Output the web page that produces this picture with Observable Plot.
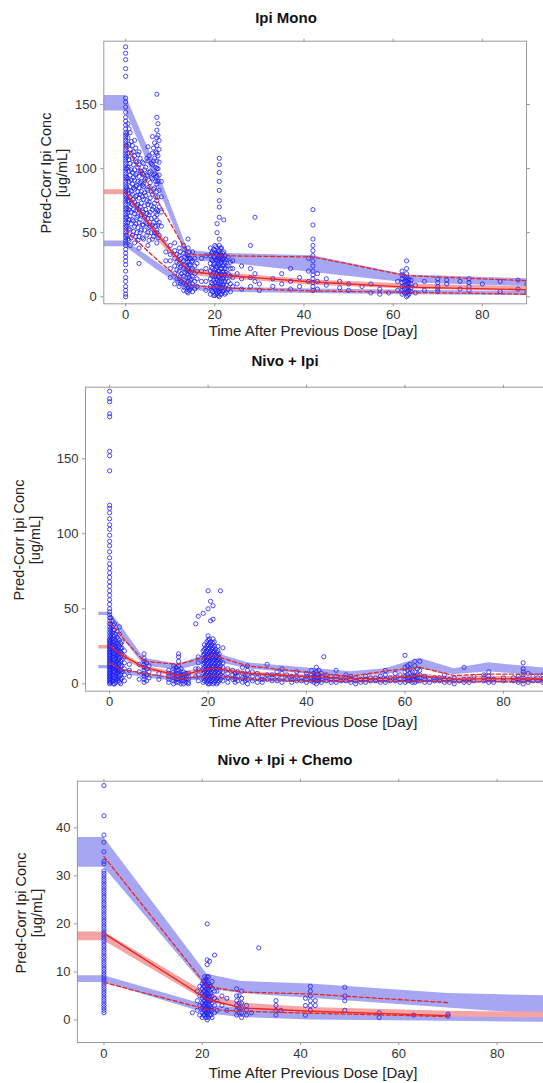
<!DOCTYPE html>
<html><head><meta charset="utf-8">
<script src="https://cdn.jsdelivr.net/npm/d3@7"></script>
<script src="https://cdn.jsdelivr.net/npm/@observablehq/plot@0.6"></script>
<style>
html,body{margin:0;padding:0;background:#fff;overflow:hidden;width:543px;height:1083px;}
#root{position:relative;width:543px;height:1083px;overflow:hidden;font-family:"Liberation Sans",Arial,sans-serif;color:#222;}
.panel{position:absolute;left:0;}
.t{position:absolute;transform:translate(-50%,-50%);white-space:nowrap;}
.title{font-weight:bold;font-size:15px;color:#111;}
.xl{font-size:15px;color:#222;}
.yl{font-size:14.5px;line-height:16px;text-align:center;color:#222;transform:translate(-50%,-50%) rotate(-90deg);}
</style></head><body><div id="root"></div>
<script>
// ---------- shared ----------
const xTicks = [0, 20, 40, 60, 80];
const panelTitles = ["Ipi Mono", "Nivo + Ipi", "Nivo + Ipi + Chemo"];
const xTitle = "Time After Previous Dose [Day]";
const yTitle1 = "Pred-Corr Ipi Conc";
const yTitle2 = "[ug/mL]";

// ---------- Panel 1: Ipi Mono ----------
const monoYTicks = [0, 50, 100, 150];
const monoBinT = [-4.9, 0, 7, 14, 21, 42, 63, 90];
const mono95Lo = [145, 145, 88, 28, 27, 19, 11, 8];
const mono95Hi = [157, 157, 100, 36, 34, 32, 17, 14];
const mono50Lo = [79.5, 79.5, 45, 17, 14.5, 9, 6, 4];
const mono50Hi = [83.5, 83.5, 52, 22, 19, 13, 10, 8];
const mono5Lo = [39, 39, 21, 5, 3.5, 2.5, 1.5, 1];
const mono5Hi = [43.5, 43.5, 27, 10, 7.5, 6, 5, 4];
const monoObsT = [0, 7, 14, 21, 42, 63, 90];
const monoObs95 = [118, 76, 33, 32, 31, 16.5, 12.5];
const monoObs50 = [81, 49, 20, 17, 11.5, 7.5, 5.5];
const monoObs5 = [52, 29, 9, 7, 4.5, 3.5, 2];
const monoPoints = [
  [0, [0,2,5,8,12,15,20,25,28,31,34,37,40,42,44,46,48,50,52,54,56,58,60,62,64,66,68,70,72,74,76,78,80,82,84,86,88,90,92,94,96,98,100,102,104,106,108,110,112,114,116,118,120,122,124,126,128,131,134,137,140,144,148,152,155,172,178,185,190,195]],
  [0.25, [48,55,62,69,77,85,93,100,109,118,127]],
  [0.5, [45,58,66,75,83,92,101,112,124,135]],
  [0.75, [44,53,60,68,74,81,90,98,107,119,131]],
  [1, [40,52,63,70,78,86,95,104,115,128]],
  [1.25, [46,57,66,73,82,91,99,112,121]],
  [1.5, [48,60,72,80,88,97,108,118]],
  [1.75, [51,59,68,76,85,93,103,113]],
  [2, [42,55,65,74,84,91,99,110,122]],
  [2.25, [47,57,67,78,86,95,106,116]],
  [2.5, [50,62,71,79,87,96,105]],
  [2.75, [44,54,63,72,82,90,101,111]],
  [3, [26,38,47,58,68,77,85,94,103,113]],
  [3.25, [50,60,70,80,89,98,108]],
  [3.5, [52,64,73,82,90,98]],
  [3.75, [46,56,67,78,87,96,105]],
  [4, [45,56,66,76,86,88,95,104]],
  [4.25, [52,62,71,81,91,99]],
  [4.5, [58,68,79,92,101]],
  [4.75, [48,57,65,75,84,95,108]],
  [5, [40,50,61,72,83,94,106,117]],
  [5.25, [44,54,64,74,86,97,110]],
  [5.5, [55,66,77,89,98]],
  [5.75, [50,61,71,82,93,104]],
  [6, [45,56,68,80,92,103,112,125]],
  [6.25, [47,58,70,84,95,106,116]],
  [6.5, [50,62,73,85,96,108,120]],
  [6.75, [55,66,78,90,101,113]],
  [7, [42,50,52,60,64,68,75,82,88,94,100,106,112,118,124,130,140,158]],
  [7.25, [46,56,67,78,90,100,110,126,135]],
  [7.5, [48,58,70,83,95,105,115,122]],
  [8, [55,66,78,90]],
  [9, [28,35,45]],
  [10, [15,22,28,33,40]],
  [11, [10,18,24,30,36,42]],
  [11.5, [14,21,27,33]],
  [12, [8,14,20,26,32,38]],
  [12.25, [10,16,23,29,35]],
  [12.5, [12,18,24,30]],
  [13, [5,11,16,22,28,34,40]],
  [13.25, [7,13,19,25,31,37]],
  [13.5, [9,15,21,27,33]],
  [13.75, [4,11,18,24,30]],
  [14, [3,7,12,17,22,27,32,38,45]],
  [14.25, [5,10,15,20,25,30,35]],
  [14.5, [6,13,19,25,30]],
  [14.75, [8,14,21,27]],
  [15, [4,10,16,22,28,35]],
  [15.5, [6,12,18,24,30]],
  [16, [8,14,20,26]],
  [17, [12,20,30]],
  [18, [5,12,22,32]],
  [19, [2,8,14,20,26,32,38]],
  [19.25, [5,11,17,23,29,34]],
  [19.5, [4,10,16,22,28,35]],
  [19.75, [1,7,13,19,25,31,37]],
  [20, [1,6,11,16,21,26,31,36,40]],
  [20.25, [2,5,9,14,19,24,29,34,39]],
  [20.5, [3,8,13,18,23,28,33,50,57]],
  [20.75, [1,6,10,15,20,25,30,35]],
  [21, [0,4,8,12,16,20,24,28,32,36,40,45,62,70,75,83,90,97,103,108]],
  [21.25, [2,6,10,14,18,22,26,30,34,38]],
  [21.5, [2,7,12,17,22,27,32,38]],
  [21.75, [4,9,14,19,24,29,34]],
  [22, [5,10,15,20,25,30,35,60]],
  [22.25, [2,7,12,17,22,27,32]],
  [22.5, [3,9,14,19,24,29]],
  [23, [6,12,18,24,31]],
  [23.5, [4,10,16,22,27]],
  [24, [8,15,22,28]],
  [25, [10,18]],
  [26, [6,14,24]],
  [28, [8,15,22,40]],
  [29, [12,18,62]],
  [30, [5,10]],
  [33, [8,14]],
  [35, [10,18]],
  [37, [6,12,22]],
  [39, [8,15]],
  [41, [12,20,30]],
  [42, [5,8,11,14,17,20,24,28,32,36,40,45,56,68]],
  [43, [6,12,18]],
  [45, [9,14]],
  [48, [7,12]],
  [50, [5,10]],
  [53, [8]],
  [55, [3,10]],
  [57, [2,6]],
  [59, [3]],
  [61, [5,12]],
  [62, [2,5,8,11,14,17,20]],
  [62.5, [3,6,9,12,16]],
  [63, [0,3,6,9,12,15,18,22,28]],
  [63.25, [1,4,7,10,13]],
  [63.5, [2,5,8,11,14]],
  [64, [4,7,10,13]],
  [65, [3,9]],
  [67, [5,12]],
  [70, [4,6,8,11,14]],
  [72, [10,13]],
  [75, [6,12]],
  [77, [5,8,11,14]],
  [80, [10]],
  [84, [4,12]],
  [88, [6,13]],
  [90, [3,10]]
];

// ---------- Panel 2: Nivo + Ipi ----------
const nivoYTicks = [0, 50, 100, 150];
const nivoBinT = [-2.2, 0, 2, 7, 14, 21, 28, 42, 49, 56, 63, 70, 77, 90];
const nivo95Lo = [45.5, 45.5, 33, 12, 9, 15, 10, 6, 5, 6, 10, 6, 8, 5];
const nivo95Hi = [47.7, 47.7, 40, 17, 13, 21, 14, 10, 8, 10, 17, 10, 14, 10];
const nivo50Lo = [23.3, 23.3, 18, 9, 4, 8, 5, 3, 2.5, 2.5, 3.5, 2, 2.5, 2];
const nivo50Hi = [25.5, 25.5, 22, 12, 7, 12, 8, 5.5, 5, 5, 6.5, 4.5, 5, 4.5];
const nivo5Lo = [10, 10, 7, 4, 1.5, 3, 1.5, 0.5, 0.5, 0.5, 0.8, 0.5, 0.5, 0.5];
const nivo5Hi = [12.2, 12.2, 10, 7, 4, 6, 4, 3, 2.5, 2.5, 3, 2.5, 2.5, 2.5];
const nivoObsT = [0, 2, 7, 14, 21, 28, 42, 49, 56, 63, 70, 77, 90];
const nivoObs95 = [41, 33, 15, 13, 19, 12, 7, 5, 8.5, 11, 5.5, 6.5, 6.5];
const nivoObs50 = [25.5, 20, 11, 5.5, 10.5, 7, 4.5, 3.5, 3.5, 5.5, 3, 3.5, 3];
const nivoObs5 = [14, 10, 7, 3.3, 5.5, 3, 2, 1.5, 1.5, 2, 1.2, 1.5, 1.2];
const nivoPoints = [
  [0, [0,1,2,3,4,5,6,7,8,9,10,11,12,13,14,15,16,17,18,19,20,21,22,23,24,25,26,27,28,29,30,32,34,36,38,40,42,44,46,48,50,53,56,59,62,65,68,71,74,77,80,84,88,92,95,99,103,106,110,114,117,119,142,152,155,178,180,188,190,195]],
  [0.25, [1,3,5,7,9,11,13,15,17,19,21,23,25,27,29,31,33,35,37,40,44]],
  [0.5, [2,6,10,14,18,22,26,30,34,38,42]],
  [0.75, [0,2,4,6,8,10,12,14,16,18,20,22,24,26,28,30,32,36,39]],
  [1, [0,4,8,12,16,20,24,28,32,36,40]],
  [1.25, [1,3,5,7,9,11,13,15,17,19,21,23,25,27,29,33]],
  [1.5, [3,7,11,15,19,23,27,31,35]],
  [1.75, [2,4,6,8,10,12,14,16,18,20,22,24,26,30]],
  [2, [1,5,9,13,17,21,25,29,33,38]],
  [2.25, [0,3,6,9,12,15,18,21,24,27]],
  [2.5, [4,8,12,16,20,24,28]],
  [3, [2,6,10,14,18,22]],
  [4, [5,9,13]],
  [6, [3,8,13]],
  [7, [1,3,5,7,9,11,13,15,17,20]],
  [7.5, [2,6,10,14]],
  [8, [4,8,12]],
  [10, [3,7]],
  [12, [1,3,5,7,9]],
  [13, [0,2,4,6,8,10,12]],
  [13.5, [1,3,5,7,9,11]],
  [14, [1,3,5,7,9,12,15,18,20]],
  [14.5, [0,2,4,6,8,10]],
  [15, [0,2,4,6,8]],
  [15.5, [1,3,5,7]],
  [16, [0,1,3,5,7]],
  [17.5, [5,10,40]],
  [18, [2,6,10,14,18,45]],
  [19, [1,4,7,10,13,16,19,22,47]],
  [19.25, [2,5,8,11,14,17,20,23,26]],
  [19.5, [3,6,9,12,15,18,21,24]],
  [19.75, [1,4,7,10,13,16,19,22,25,28]],
  [20, [0,2,5,8,11,14,17,20,23,26,29,32,50,62]],
  [20.25, [0,3,6,9,12,15,18,21,24,27,30]],
  [20.5, [1,4,7,10,13,16,19,22,25,28,42,55]],
  [20.75, [2,5,8,11,14,17,20,23,26]],
  [21, [0,3,6,9,12,15,18,21,24,27,30,43,52]],
  [21.25, [1,4,7,10,13,16,19,22,25,28]],
  [21.5, [2,5,8,11,14,17,20,23]],
  [21.75, [0,3,6,9,12,15,18,21]],
  [22, [1,4,7,10,13,16,19,22,25]],
  [22.25, [2,5,8,11,14,17,20]],
  [22.5, [3,6,9,12,15,62]],
  [23, [2,5,8,11,14,24]],
  [24, [1,4,7,10]],
  [25, [3,6,9]],
  [25.5, [1,3,5,7]],
  [26, [2,5,8]],
  [27, [1,4,7,11]],
  [27.5, [2,4,6]],
  [28, [0,3,6,9,12]],
  [29, [2,5,8]],
  [30, [1,4,7]],
  [31, [1,3,5]],
  [32, [3,6,13]],
  [33, [2,4,6]],
  [34, [2,5,8]],
  [35, [1,4,7,10]],
  [36, [3,6]],
  [37, [1,3,5]],
  [38, [2,5,8]],
  [39, [2,4]],
  [40, [1,3,5,7]],
  [41, [2,4,6,9]],
  [41.5, [1,3,5,7]],
  [42, [0,2,4,6,8,11]],
  [42.5, [2,4,6,9]],
  [43, [1,3,5,7]],
  [43.5, [18]],
  [44, [2,4,6]],
  [45, [1,3,5]],
  [46, [1,3,5,9]],
  [47, [2,4]],
  [48, [2,4,6]],
  [49, [1,3,5]],
  [50, [0,2,4]],
  [51, [1,3]],
  [52, [1,3,5]],
  [53, [2,4]],
  [54, [2,4]],
  [55, [1,3,5]],
  [56, [1,3,6,9]],
  [57, [2,4]],
  [58, [2,4,7]],
  [59, [1,3,6]],
  [60, [1,3,5,8,11,19]],
  [60.5, [2,4,6,9,12]],
  [61, [2,4,7,10,13]],
  [61.5, [1,3,5,8]],
  [62, [1,3,5,8,12,15]],
  [62.5, [2,4,6,10]],
  [63, [2,4,6,9,15]],
  [64, [1,3,5]],
  [65, [1,3]],
  [66, [2,4]],
  [67, [2,4]],
  [68, [1,3,6]],
  [69, [1,3]],
  [70, [0,2,4]],
  [71, [2]],
  [72, [1,3,11]],
  [73, [1,3]],
  [74, [2,5]],
  [76, [2,4,6]],
  [77, [1,3,5,8]],
  [78, [1,3]],
  [80, [2,4]],
  [82, [2,4]],
  [83, [1,3,5]],
  [84, [0,2,4,6,8,10,14]],
  [85, [1,3,7]],
  [86, [2,5]],
  [87, [2,4]],
  [88, [1,3,6]]
];

// ---------- Panel 3: Nivo + Ipi + Chemo ----------
const chemoYTicks = [0, 10, 20, 30, 40];
const chemoBinT = [-5.4, 0, 21, 28, 42, 70, 90];
const chemo95Lo = [31.8, 31.8, 6.5, 5.5, 4.5, 2.5, 1];
const chemo95Hi = [38, 38, 9.5, 8, 7.5, 5.5, 5];
const chemo50Lo = [16.5, 16.5, 3.8, 2.3, 1.3, 0.6, 0.4];
const chemo50Hi = [18.3, 18.3, 5.5, 3.5, 2.6, 1.8, 1.6];
const chemo5Lo = [7.8, 7.8, 1.3, 0.5, 0, -0.3, -0.5];
const chemo5Hi = [9.2, 9.2, 3, 2.5, 2, 1.5, 1.3];
const chemoObsT = [0, 21, 28, 42, 70];
const chemoObs95 = [34, 7, 5.8, 5.4, 3.6];
const chemoObs50 = [18, 4.3, 2.5, 1.8, 0.9];
const chemoObs5 = [7.8, 2.2, 1.8, 1.4, 0.7];
const chemoPoints = [
  [0, [1.5,2,2.5,3,3.5,4,4.5,5,5.5,6,6.5,7,7.5,8,8.5,9,9.5,10,10.5,11,11.5,12,12.5,13,13.5,14,14.5,15,15.5,16,16.5,17,17.5,18,18.5,19,19.5,20,20.5,21,21.5,22,22.5,23,23.5,24,24.5,25,25.5,26,26.5,27,27.5,28,28.5,29,29.5,30,30.5,31,32.5,33,35,37,38.5,42.5,48.8]],
  [18, [1.5]],
  [19, [2,4,6]],
  [19.5, [1,3,5,7]],
  [20, [0.5,1.5,2.5,3.5,4.5,5.5,6.5,7.5]],
  [20.25, [1,2,3,4,5,6,7,8]],
  [20.5, [1,2,3,4,5,6,7,8,9]],
  [20.75, [0.5,1.5,2.5,3.5,4.5,5.5,6.5,7.5,8.5]],
  [21, [0,1,2,3,4,5,6,7,8,9,11.5,12.5,20]],
  [21.25, [0.5,1.5,2.5,3.5,4.5,5.5,6.5,7.5,9]],
  [21.5, [1,2,3,4,5,6,7,12.2]],
  [21.75, [1,2.5,4,5.5,7]],
  [22, [0.5,2,3.5,5,6.5,8]],
  [22.5, [1.5,3,4.5,6,13.5]],
  [23, [2,4,6]],
  [24, [3,5]],
  [25, [2,4.5]],
  [27, [1,2,3,4,5,6.5]],
  [27.5, [1.5,2.5,3.5,5]],
  [28, [0.5,1.5,2.5,3.5,4.5,6]],
  [29, [1,2,3]],
  [30, [1.5]],
  [31.5, [15]],
  [35, [1,2,3,4]],
  [36, [2]],
  [41, [1,3,4.5]],
  [42, [2,3,4,5,6,7]],
  [43, [3,4]],
  [49, [2,4,5,6.8]],
  [56, [0.5,1.5]],
  [63, [1]],
  [70, [0.8,1.2]]
];

// ---------- styles ----------
const BLUE_BAND = "#a6a6f3";
const RED_BAND = "#f4a4a4";
const PT = "#1f1ff8";
const RED = "#ea2424";
const FRAME = "#9a9a9a";

function buildPanel(cfg) {
  const obs = cfg.points.flatMap(([t, cs]) => cs.map(c => ({t, c})));
  const band = (lo, hi) => cfg.binT.map((t, i) => ({t, lo: lo[i], hi: hi[i]}));
  const lines = cfg.obsT.map((t, i) => ({t, p95: cfg.o95[i], p50: cfg.o50[i], p5: cfg.o5[i]}));
  const dash = {stroke: RED, strokeWidth: 1.3, strokeDasharray: "4,2.5", clip: true};
  return Plot.plot({
    width: cfg.width, height: cfg.height,
    marginTop: cfg.mt, marginBottom: cfg.mb, marginLeft: cfg.ml, marginRight: cfg.mr,
    x: {domain: cfg.xDomain},
    y: {domain: cfg.yDomain},
    style: {fontSize: "13px", fontFamily: "'Liberation Sans', Arial, sans-serif", color: "#333", background: "transparent", maxWidth: "none", overflow: "visible"},
    marks: [
      Plot.areaY(band(cfg.b95lo, cfg.b95hi), {x: "t", y1: "lo", y2: "hi", fill: BLUE_BAND, clip: true}),
      Plot.areaY(band(cfg.b5lo, cfg.b5hi), {x: "t", y1: "lo", y2: "hi", fill: BLUE_BAND, clip: true}),
      Plot.areaY(band(cfg.b50lo, cfg.b50hi), {x: "t", y1: "lo", y2: "hi", fill: RED_BAND, clip: true}),
      Plot.dot(obs, {x: "t", y: "c", r: 2.1, stroke: PT, strokeOpacity: 0.8, strokeWidth: 1, fill: "none", clip: true}),
      Plot.line(lines, {x: "t", y: "p95", ...dash}),
      Plot.line(lines, {x: "t", y: "p50", stroke: RED, strokeWidth: 1.4, clip: true}),
      Plot.line(lines, {x: "t", y: "p5", ...dash}),
      Plot.frame({stroke: FRAME}),
      Plot.axisX({ticks: xTicks, tickSize: 3, tickPadding: 3, label: null, stroke: FRAME, fill: "#333"}),
      Plot.axisX({anchor: "top", ticks: xTicks, tickSize: 3, tickFormat: () => "", label: null, stroke: FRAME}),
      Plot.axisY({ticks: cfg.yTicks, tickSize: 3, tickPadding: 4, label: null, stroke: FRAME, fill: "#333"}),
      Plot.axisY({anchor: "right", ticks: cfg.yTicks, tickSize: 3, tickFormat: () => "", label: null, stroke: FRAME})
    ]
  });
}

const root = document.getElementById("root");
function place(svg, top, width) {
  const d = document.createElement("div");
  d.className = "panel";
  d.style.top = top + "px";
  d.style.width = width + "px";
  d.appendChild(svg);
  root.appendChild(d);
}
function txt(cls, html, x, y) {
  const d = document.createElement("div");
  d.className = "t " + cls;
  d.style.left = x + "px";
  d.style.top = y + "px";
  d.innerHTML = html;
  root.appendChild(d);
}

place(buildPanel({
  points: monoPoints, binT: monoBinT, b95lo: mono95Lo, b95hi: mono95Hi, b50lo: mono50Lo, b50hi: mono50Hi,
  b5lo: mono5Lo, b5hi: mono5Hi, obsT: monoObsT, o95: monoObs95, o50: monoObs50, o5: monoObs5,
  yTicks: monoYTicks, xDomain: [-4.9, 89.9], yDomain: [-5.5, 199.4],
  width: 543, height: 340, mt: 40.7, mb: 36.7, ml: 103.3, mr: 17
}), 0, 543);

place(buildPanel({
  points: nivoPoints, binT: nivoBinT, b95lo: nivo95Lo, b95hi: nivo95Hi, b50lo: nivo50Lo, b50hi: nivo50Hi,
  b5lo: nivo5Lo, b5hi: nivo5Hi, obsT: nivoObsT, o95: nivoObs95, o50: nivoObs50, o5: nivoObs5,
  yTicks: nivoYTicks, xDomain: [-4.9, 89.9], yDomain: [-4.9, 197.7],
  width: 560, height: 380, mt: 46.7, mb: 29.3, ml: 85, mr: 8.3
}), 340, 560);

place(buildPanel({
  points: chemoPoints, binT: chemoBinT, b95lo: chemo95Lo, b95hi: chemo95Hi, b50lo: chemo50Lo, b50hi: chemo50Hi,
  b5lo: chemo5Lo, b5hi: chemo5Hi, obsT: chemoObsT, o95: chemoObs95, o50: chemoObs50, o5: chemoObs5,
  yTicks: chemoYTicks, xDomain: [-5.4, 89.9], yDomain: [-4.7, 49.7],
  width: 560, height: 363, mt: 60.7, mb: 41, ml: 76.9, mr: 14.7
}), 720, 560);

// titles and axis titles
txt("title", panelTitles[0], 286, 17);
txt("title", panelTitles[1], 285, 360);
txt("title", panelTitles[2], 285, 759);
txt("xl", xTitle, 313, 330);
txt("xl", xTitle, 313, 721);
txt("xl", xTitle, 313, 1072);
txt("yl", yTitle1 + "<br>" + yTitle2, 54, 173);
txt("yl", yTitle1 + "<br>" + yTitle2, 27, 540);
txt("yl", yTitle1 + "<br>" + yTitle2, 29, 913);
</script></body></html>
